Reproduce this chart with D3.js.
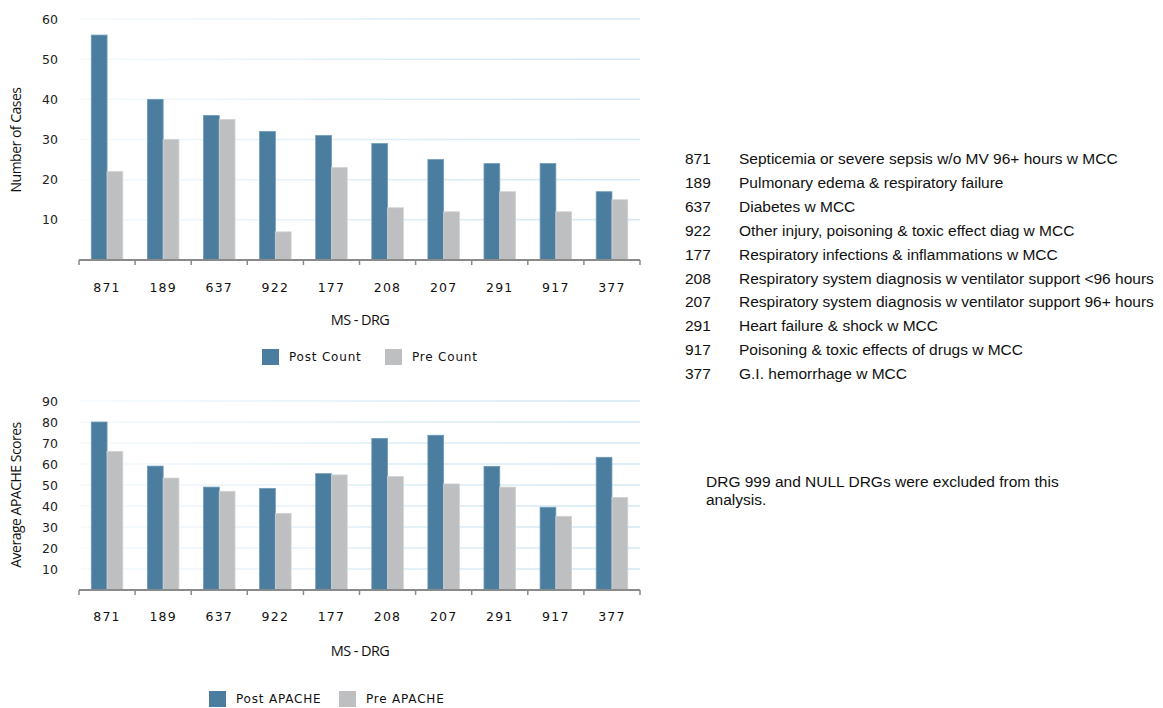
<!DOCTYPE html>
<html>
<head>
<meta charset="utf-8">
<script src="https://cdn.jsdelivr.net/npm/d3@7"></script>
<style>
  body { margin: 0; background: #fff; }
  svg { display: block; }
</style>
</head>
<body>
<svg id="chart"></svg>
<script>
const drgs = ["871", "189", "637", "922", "177", "208", "207", "291", "917", "377"];
const postCount = [56, 40, 36, 32, 31, 29, 25, 24, 24, 17];
const preCount = [22, 30, 35, 7, 23, 13, 12, 17, 12, 15];
const postApache = [80, 59, 49, 48.4, 55.4, 72.2, 73.7, 58.9, 39.4, 63.2];
const preApache = [66, 53.3, 47, 36.5, 54.8, 54, 50.5, 49, 35.1, 44.1];
const countTicks = [10, 20, 30, 40, 50, 60];
const apacheTicks = [10, 20, 30, 40, 50, 60, 70, 80, 90];
const drgNames = [
    "Septicemia or severe sepsis w/o MV 96+ hours w MCC",
    "Pulmonary edema & respiratory failure",
    "Diabetes w MCC",
    "Other injury, poisoning & toxic effect diag w MCC",
    "Respiratory infections & inflammations w MCC",
    "Respiratory system diagnosis w ventilator support <96 hours",
    "Respiratory system diagnosis w ventilator support 96+ hours",
    "Heart failure & shock w MCC",
    "Poisoning & toxic effects of drugs w MCC",
    "G.I. hemorrhage w MCC"
];
const note = ["DRG 999 and NULL DRGs were excluded from this", "analysis."];

const width = 1163;
const height = 708;
const postColor = "#4a7d9e";
const preColor = "#bebfc1";
const tickFont = "DejaVu Sans";

const svg = d3.select("#chart")
    .attr("width", width)
    .attr("height", height);

const grad = svg.append("defs")
    .append("linearGradient")
    .attr("id", "grid-grad")
    .attr("gradientUnits", "userSpaceOnUse")
    .attr("x1", 79).attr("x2", 640)
    .attr("y1", 0).attr("y2", 0);
grad.append("stop").attr("offset", "0%").attr("stop-color", "#f5fafd");
grad.append("stop").attr("offset", "60%").attr("stop-color", "#dcedf6");
grad.append("stop").attr("offset", "100%").attr("stop-color", "#d3e8f3");

function drawChart(opts) {
    const { post, pre, ticks, yMax, top, bottom, yTitle, titleY, legend, tickLabelY, xTitleY, legendY } = opts;
    const data = drgs.map((d, i) => ({ drg: d, post: post[i], pre: pre[i] }));

    const x0 = d3.scaleBand().domain(drgs).range([79, 640]).padding(0);
    const x1 = d3.scaleBand().domain(["post", "pre"])
        .range([0, x0.bandwidth()])
        .paddingInner(0)
        .paddingOuter(0.78);
    const y = d3.scaleLinear().domain([0, yMax]).range([bottom, top]);

    const g = svg.append("g");

    // gridlines
    g.selectAll(".grid")
        .data(ticks)
        .join("line")
        .attr("x1", 79)
        .attr("x2", 640)
        .attr("y1", d => y(d))
        .attr("y2", d => y(d))
        .attr("stroke", "url(#grid-grad)")
        .attr("stroke-width", 1.5);

    // y tick labels
    const yAxis = g.append("g")
        .attr("transform", "translate(62,0)")
        .call(d3.axisLeft(y).tickValues(ticks).tickSize(0).tickPadding(4));
    yAxis.select(".domain").remove();
    yAxis.selectAll("text")
        .attr("font-family", tickFont)
        .attr("font-size", "12.5px")
        .attr("fill", "#222");

    // bars
    const groups = g.selectAll(".grp")
        .data(data)
        .join("g")
        .attr("transform", d => `translate(${x0(d.drg)},0)`);

    groups.append("rect")
        .attr("x", x1("post"))
        .attr("y", d => y(d.post))
        .attr("width", x1.bandwidth())
        .attr("height", d => y(0) - y(d.post))
        .attr("fill", postColor)
        .attr("stroke", "#6f9bb8")
        .attr("stroke-width", 0.8);

    groups.append("rect")
        .attr("x", x1("pre"))
        .attr("y", d => y(d.pre))
        .attr("width", x1.bandwidth())
        .attr("height", d => y(0) - y(d.pre))
        .attr("fill", preColor)
        .attr("stroke", "#d0d1d3")
        .attr("stroke-width", 0.8);

    // x axis with ticks at band edges
    g.append("line")
        .attr("x1", 79).attr("x2", 640)
        .attr("y1", y(0)).attr("y2", y(0))
        .attr("stroke", "#8a8a8a")
        .attr("stroke-width", 2);
    const edges = drgs.map(d => x0(d)).concat([x0.range()[1]]);
    g.selectAll(".edge")
        .data(edges)
        .join("line")
        .attr("x1", d => d).attr("x2", d => d)
        .attr("y1", y(0)).attr("y2", y(0) + 5)
        .attr("stroke", "#8a8a8a")
        .attr("stroke-width", 1.5);

    g.selectAll(".xlab")
        .data(drgs)
        .join("text")
        .attr("x", d => x0(d) + x0.bandwidth() / 2)
        .attr("y", tickLabelY)
        .attr("text-anchor", "middle")
        .attr("dominant-baseline", "middle")
        .attr("font-family", tickFont)
        .attr("font-size", "12.5px")
        .attr("letter-spacing", "1.2px")
        .attr("fill", "#111")
        .text(d => d);

    g.append("text")
        .attr("x", 360)
        .attr("y", xTitleY)
        .attr("text-anchor", "middle")
        .attr("dominant-baseline", "middle")
        .attr("font-family", "Open Sans")
        .attr("font-size", "14.5px")
        .attr("letter-spacing", "-0.6px")
        .attr("fill", "#111")
        .text("MS - DRG");

    g.append("text")
        .attr("transform", `translate(17,${titleY}) rotate(-90)`)
        .attr("text-anchor", "middle")
        .attr("dominant-baseline", "middle")
        .attr("font-family", "Open Sans")
        .attr("font-size", "14px")
        .attr("letter-spacing", "-0.5px")
        .attr("fill", "#111")
        .text(yTitle);

    // legend
    const lg = g.append("g");
    legend.forEach((item, i) => {
        lg.append("rect")
            .attr("x", item.x)
            .attr("y", legendY)
            .attr("width", 17)
            .attr("height", 16)
            .attr("fill", i === 0 ? postColor : preColor);
        lg.append("text")
            .attr("x", item.x + 27)
            .attr("y", legendY + 8)
            .attr("dominant-baseline", "middle")
            .attr("font-family", tickFont)
            .attr("font-size", "12px")
            .attr("letter-spacing", "0.8px")
            .attr("fill", "#111")
            .text(item.label);
    });
}

drawChart({
    post: postCount, pre: preCount, ticks: countTicks, yMax: 60,
    top: 19, bottom: 260, yTitle: "Number of Cases", titleY: 140,
    tickLabelY: 288, xTitleY: 321, legendY: 349,
    legend: [{ x: 262, label: "Post Count" }, { x: 385, label: "Pre Count" }]
});

drawChart({
    post: postApache, pre: preApache, ticks: apacheTicks, yMax: 90,
    top: 401, bottom: 590, yTitle: "Average APACHE Scores", titleY: 495,
    tickLabelY: 617, xTitleY: 652, legendY: 691,
    legend: [{ x: 209, label: "Post APACHE" }, { x: 339, label: "Pre APACHE" }]
});

// DRG description list
const list = svg.append("g");
list.selectAll(".code")
    .data(drgs)
    .join("text")
    .attr("x", 685)
    .attr("y", (d, i) => 160 + i * 23.9)
    .attr("dominant-baseline", "middle")
    .attr("font-family", "Liberation Sans")
    .attr("font-size", "15.5px")
    .attr("fill", "#111")
    .text(d => d);
list.selectAll(".name")
    .data(drgNames)
    .join("text")
    .attr("x", 739)
    .attr("y", (d, i) => 160 + i * 23.9)
    .attr("dominant-baseline", "middle")
    .attr("font-family", "Liberation Sans")
    .attr("font-size", "15.5px")
    .attr("fill", "#111")
    .text(d => d);

svg.append("g").selectAll("text")
    .data(note)
    .join("text")
    .attr("x", 706)
    .attr("y", (d, i) => 483 + i * 18)
    .attr("dominant-baseline", "middle")
    .attr("font-family", "Liberation Sans")
    .attr("font-size", "15.5px")
    .attr("fill", "#111")
    .text(d => d);
</script>
</body>
</html>
